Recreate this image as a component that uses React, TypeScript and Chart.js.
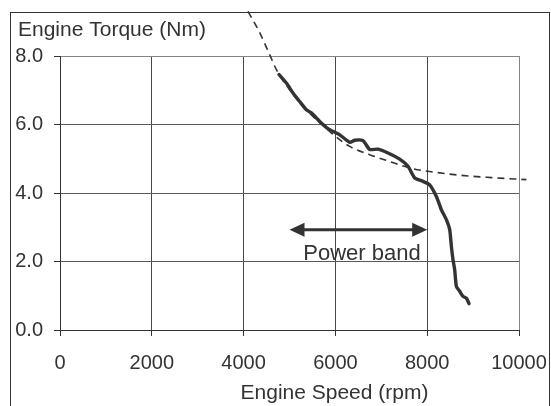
import { useEffect, useRef } from "react";
import { Chart, registerables } from "chart.js";

Chart.register(...registerables);

// Measured torque curve (solid)
const torqueRpm = [4771, 4932, 5076, 5222, 5368, 5477, 5658, 5839, 6022, 6094, 6312, 6421, 6601, 6747, 6928, 7146, 7401, 7582, 7728, 7908, 8054, 8200, 8309, 8418, 8490, 8527, 8562, 8599, 8636, 8708, 8780, 8854, 8911];
const torqueNm = [7.46, 7.21, 6.92, 6.67, 6.43, 6.34, 6.09, 5.88, 5.75, 5.70, 5.48, 5.54, 5.53, 5.27, 5.28, 5.17, 4.99, 4.78, 4.44, 4.34, 4.24, 3.90, 3.51, 3.22, 2.93, 2.44, 2.05, 1.76, 1.27, 1.13, 0.98, 0.93, 0.77];

// Reference curve (dashed)
const curveRpm = [4096, 4351, 4568, 4715, 5000, 5250, 5500, 5750, 5941, 6312, 6747, 7183, 7618, 8200, 8700, 9400, 10160];
const curveNm = [9.30, 8.68, 8.04, 7.60, 7.02, 6.60, 6.25, 5.95, 5.72, 5.36, 5.12, 4.92, 4.73, 4.60, 4.52, 4.45, 4.39];

const xMin = 0;
const xMax = 10000;
const xStep = 2000;
const yMin = 0;
const yMax = 8;
const yStep = 2;

const xTitle = "Engine Speed (rpm)";
const yTitle = "Engine Torque (Nm)";

const bandStartRpm = 5000;
const bandEndRpm = 8000;
const bandArrowNm = 2.93;
const bandLabel = "Power band";
const bandLabelRpm = 6580;
const bandLabelNm = 2.05;

const FONT = "'Liberation Sans', Arial, Helvetica, sans-serif";
const INK = "#333333";
const BORDER_GRID = "#8c8080";

const decorPlugin = {
  id: "decor",
  afterDatasetsDraw(chart: any) {
    const ctx = chart.ctx as CanvasRenderingContext2D;
    const xs = chart.scales.x;
    const ys = chart.scales.y;
    ctx.save();
    const x1 = xs.getPixelForValue(bandStartRpm);
    const x2 = xs.getPixelForValue(bandEndRpm);
    const y = ys.getPixelForValue(bandArrowNm);
    const head = 15;
    const hh = 7;
    ctx.strokeStyle = INK;
    ctx.fillStyle = INK;
    ctx.lineWidth = 3;
    ctx.beginPath();
    ctx.moveTo(x1 + head - 2, y);
    ctx.lineTo(x2 - head + 2, y);
    ctx.stroke();
    ctx.beginPath();
    ctx.moveTo(x1, y);
    ctx.lineTo(x1 + head, y - hh);
    ctx.lineTo(x1 + head, y + hh);
    ctx.closePath();
    ctx.fill();
    ctx.beginPath();
    ctx.moveTo(x2, y);
    ctx.lineTo(x2 - head, y - hh);
    ctx.lineTo(x2 - head, y + hh);
    ctx.closePath();
    ctx.fill();
    ctx.font = `22px ${FONT}`;
    ctx.textAlign = "center";
    ctx.textBaseline = "alphabetic";
    ctx.fillText(bandLabel, xs.getPixelForValue(bandLabelRpm), ys.getPixelForValue(bandLabelNm));
    ctx.restore();
  },
  afterDraw(chart: any) {
    const ctx = chart.ctx as CanvasRenderingContext2D;
    ctx.save();
    ctx.strokeStyle = INK;
    ctx.lineWidth = 1;
    ctx.strokeRect(10.5, 12.5, 539, 420);
    ctx.fillStyle = INK;
    ctx.font = `21px ${FONT}`;
    ctx.textBaseline = "alphabetic";
    ctx.textAlign = "left";
    ctx.fillText(yTitle, 18, 35.5);
    ctx.textAlign = "center";
    ctx.fillText(xTitle, 334.5, 398.5);
    ctx.restore();
  },
};

export default function App() {
  const canvasRef = useRef<HTMLCanvasElement | null>(null);

  useEffect(() => {
    const canvas = canvasRef.current;
    if (!canvas) return;
    const torqueData = torqueRpm.map((x, i) => ({ x, y: torqueNm[i] }));
    const curveData = curveRpm.map((x, i) => ({ x, y: curveNm[i] }));

    const chart = new Chart(canvas, {
      type: "line",
      data: {
        datasets: [
          {
            label: "Reference",
            data: curveData,
            borderColor: INK,
            borderWidth: 1.6,
            borderDash: [7, 5],
            pointRadius: 0,
            cubicInterpolationMode: "monotone",
            fill: false,
            clip: false as any,
          },
          {
            label: "Torque",
            data: torqueData,
            borderColor: INK,
            borderWidth: 3.4,
            pointRadius: 0,
            tension: 0.2,
            borderCapStyle: "round",
            borderJoinStyle: "round",
            fill: false,
          },
        ],
      },
      plugins: [decorPlugin],
      options: {
        animation: false,
        responsive: false,
        devicePixelRatio: 1,
        layout: { padding: { top: 56, right: 32, bottom: 0, left: 0 } },
        plugins: {
          legend: { display: false },
          tooltip: { enabled: false },
          title: { display: false },
        },
        scales: {
          x: {
            type: "linear",
            min: xMin,
            max: xMax,
            afterFit: (scale: any) => {
              scale.height = 76;
              scale.paddingLeft = 0;
              scale.paddingRight = 0;
            },
            ticks: {
              stepSize: xStep,
              padding: 15,
              color: INK,
              font: { family: FONT, size: 20 },
              callback: (v: any) => String(v),
              maxRotation: 0,
              autoSkip: false,
            },
            grid: {
              color: (c: any) =>
                c.tick && c.tick.value === xMax ? BORDER_GRID : c.tick && c.tick.value === xMin ? INK : "#484848",
              tickColor: INK,
              tickLength: 6,
              lineWidth: 1,
            },
            border: { color: INK, width: 1 },
          },
          y: {
            type: "linear",
            min: yMin,
            max: yMax,
            afterFit: (scale: any) => {
              scale.width = 60;
              scale.paddingTop = 0;
              scale.paddingBottom = 0;
            },
            ticks: {
              stepSize: yStep,
              padding: 11,
              color: INK,
              font: { family: FONT, size: 20 },
              callback: (v: any) => Number(v).toFixed(1),
            },
            grid: {
              color: (c: any) =>
                c.tick && c.tick.value === yMax ? BORDER_GRID : c.tick && c.tick.value === yMin ? INK : "#5a5a5a",
              tickColor: INK,
              tickLength: 6,
              lineWidth: 1,
            },
            border: { color: INK, width: 1 },
          },
        },
      },
    });
    return () => chart.destroy();
  }, []);

  return (
    <div style={{ position: "fixed", left: 0, top: 0, width: 551, height: 406, background: "#fff" }}>
      <canvas ref={canvasRef} width={551} height={406} style={{ width: 551, height: 406, display: "block" }} />
    </div>
  );
}
